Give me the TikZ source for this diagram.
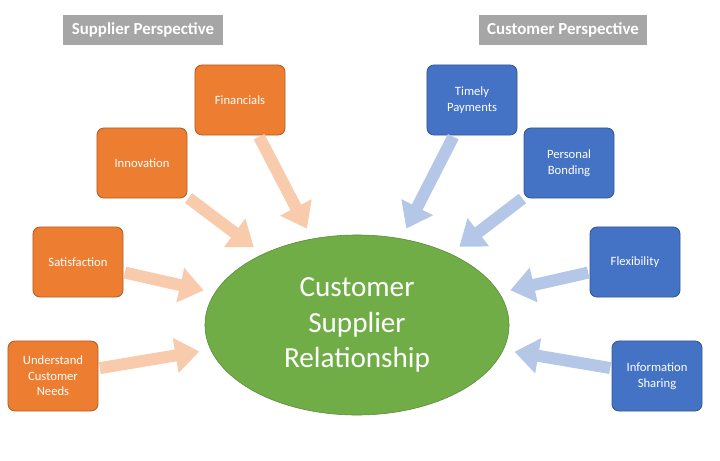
\documentclass[tikz,border=0pt]{standalone}
\usepackage{fontspec}
\setmainfont{Carlito}
\usetikzlibrary{shapes.geometric}
\usetikzlibrary{arrows.meta}
\usetikzlibrary{positioning}

\definecolor{sorange}{HTML}{ED7D31}
\definecolor{sblue}{HTML}{4472C4}
\definecolor{sgreen}{HTML}{70AD47}
\definecolor{lorange}{HTML}{F8CBAD}
\definecolor{lblue}{HTML}{B4C7E7}

\begin{document}
\begin{tikzpicture}[x=0.025cm, y=-0.025cm]
\tikzset{
  base/.style={rounded corners=5pt, align=center, minimum width=2.25cm,
    minimum height=1.75cm, text=white, font=\small, line width=0.6pt},
  sup/.style={base, fill=sorange, draw=sorange!75!black},
  cus/.style={base, fill=sblue, draw=sblue!75!black},
  head/.style={fill=black!35, text=white, font=\large\bfseries, minimum height=0.75cm,
    inner xsep=6pt},
  blk/.style={line width=0.3cm, -{Triangle[width=0.85cm, length=0.6cm]},
    shorten <=1pt, shorten >=8pt},
}

\useasboundingbox (0,0) rectangle (720,460);

\node[head] (sp) at (143,30) {Supplier Perspective};
\node[head] (cp) at (563,30) {Customer Perspective};

\node[ellipse, fill=sgreen, draw=sgreen!80!black, minimum width=7.6cm,
  minimum height=4.5cm, text=white, font=\huge, align=center]
  (csr) at (357,325) {Customer\\Supplier\\Relationship};

% supplier side
\node[sup] (fin) at (240,100) {Financials};
\node[sup] (inn) at (142,163) {Innovation};
\node[sup] (sat) at (78,262) {Satisfaction};
\node[sup] (und) at (53,376) {Understand\\Customer\\Needs};

% customer side
\node[cus] (tim) at (472,100) {Timely\\Payments};
\node[cus] (per) at (569,163) {Personal\\Bonding};
\node[cus] (fle) at (635,262) {Flexibility};
\node[cus] (inf) at (657,376) {Information\\Sharing};

\foreach \n in {fin, inn, sat, und}
  \draw[blk, draw=lorange] (\n) -- (csr);
\foreach \n in {tim, per, fle, inf}
  \draw[blk, draw=lblue] (\n) -- (csr);
\end{tikzpicture}
\end{document}
